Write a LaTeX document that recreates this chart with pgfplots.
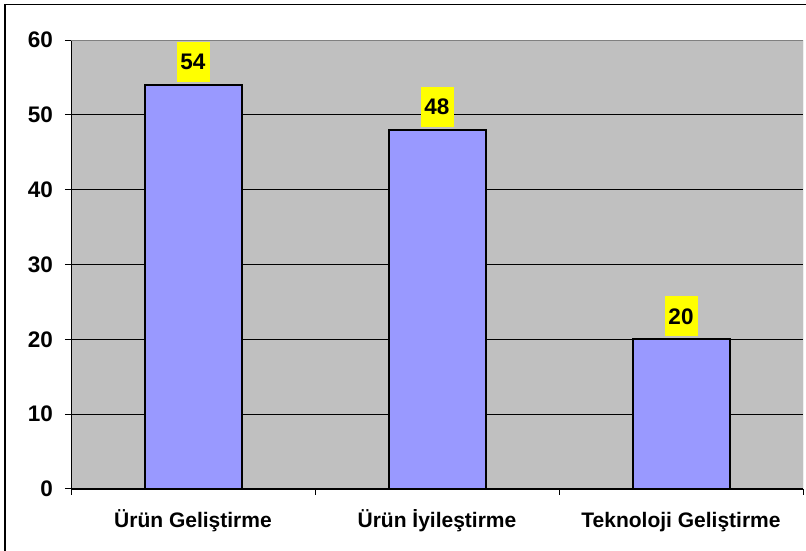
\documentclass[border=0pt]{standalone}
\usepackage{pgfplots}
\pgfplotsset{compat=1.18}
\usepackage{fontspec}
\setmainfont{Liberation Sans}
\definecolor{barblue}{HTML}{9999FF}
\definecolor{plotgray}{HTML}{C0C0C0}
\definecolor{labelyellow}{HTML}{FFFF00}
\begin{document}
\begin{tikzpicture}[x=1pt,y=1pt]
\useasboundingbox (0,0) rectangle (806,551);
\clip (0,0) rectangle (806,551);
\fill[white] (0,0) rectangle (806,551);
\draw[line width=1.5pt,black] (5,-20) rectangle (830,546.5);
\begin{axis}[
  at={(71pt,62pt)}, anchor=south west,
  scale only axis, width=732pt, height=449pt,
  xmin=-0.5, xmax=2.5, ymin=0, ymax=60,
  axis lines*=left,
  axis line style={black, line width=1pt},
  axis background/.style={fill=plotgray},
  xtick={0,1,2},
  xticklabels={Ürün Geliştirme, Ürün İyileştirme, Teknoloji Geliştirme},
  major x tick style={draw=none},
  minor xtick={-0.5,0.5,1.5,2.5},
  minor x tick style={black, line width=1pt},
  minor tick length=6pt,
  ytick={0,10,...,60},
  major y tick style={black, line width=1pt},
  major tick length=6pt,
  tick align=outside,
  ymajorgrids,
  grid style={black, line width=0.9pt},
  /pgf/number format/assume math mode=true,
  yticklabel style={font=\bfseries\fontsize{22.5}{22.5}\selectfont, anchor=east, inner sep=0pt, xshift=-12pt},
  xticklabel style={font=\bfseries\fontsize{21}{21}\selectfont, anchor=base, inner sep=0pt, yshift=-33pt},
  ybar, bar width=97pt,
  nodes near coords,
  every node near coord/.append style={font=\bfseries\fontsize{22.5}{22.5}\selectfont, fill=labelyellow, minimum width=33pt, minimum height=40pt, inner sep=0pt, anchor=south, yshift=2pt},
]
\addplot[fill=barblue, draw=black, line width=2pt] coordinates {(0,54) (1,48) (2,20)};
\draw[gray, line width=1pt] (rel axis cs:0,1) -- (rel axis cs:1,1) -- (rel axis cs:1,0);
\end{axis}
\end{tikzpicture}
\end{document}
